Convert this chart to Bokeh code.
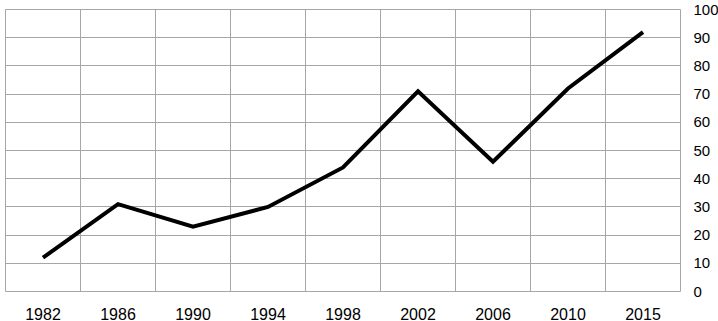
from bokeh.plotting import figure
from bokeh.models import FactorRange, Range1d, FixedTicker, ColumnDataSource
from bokeh.embed import file_html
from bokeh.resources import INLINE

years = ["1982", "1986", "1990", "1994", "1998", "2002", "2006", "2010", "2015"]
values = [12, 31, 23, 30, 44, 71, 46, 72, 92]
y_ticks = [0, 10, 20, 30, 40, 50, 60, 70, 80, 90, 100]

src = ColumnDataSource(dict(x=years, y=values))

p = figure(frame_width=675, frame_height=282, output_backend="svg", toolbar_location=None,
           x_range=FactorRange(*years, range_padding=0),
           y_range=Range1d(0, 100), y_axis_location="right",
           min_border_left=5, min_border_top=9, min_border_right=0, min_border_bottom=0)

p.line("x", "y", source=src, line_color="black", line_width=4, line_join="miter")

grid_color = "#a6a6a6"
p.outline_line_color = grid_color
p.outline_line_width = 1
p.outline_line_alpha = 1

p.xgrid.ticker = FixedTicker(ticks=list(range(1, len(years))))
p.xgrid.grid_line_color = grid_color
p.ygrid.ticker = FixedTicker(ticks=y_ticks)
p.ygrid.grid_line_color = grid_color

for ax in (p.xaxis, p.yaxis):
    ax.axis_line_color = None
    ax.major_tick_line_color = None
    ax.minor_tick_line_color = None
    ax.major_tick_out = 0
    ax.major_tick_in = 0
    ax.major_label_text_font = "Liberation Sans"
    ax.major_label_text_color = "#000000"

p.xaxis.major_label_text_font_size = "16px"
p.yaxis.major_label_text_font_size = "15px"
p.yaxis.ticker = FixedTicker(ticks=y_ticks)
p.yaxis.major_label_standoff = 13
p.xaxis.major_label_standoff = 16

open("out.html", "w").write(file_html(p, INLINE))
